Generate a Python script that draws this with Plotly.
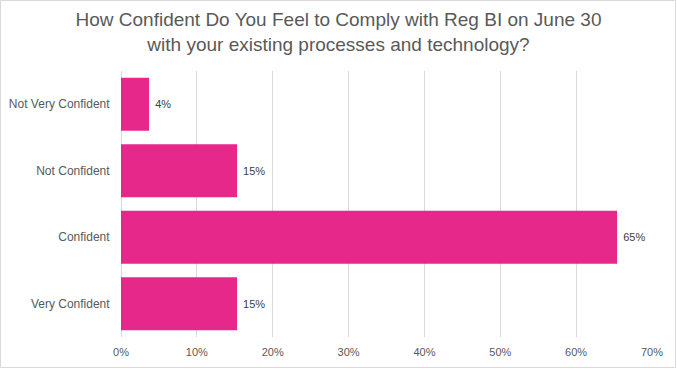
import plotly.graph_objects as go

categories = ["Very Confident", "Confident", "Not Confident", "Not Very Confident"]
values = [0.153, 0.654, 0.153, 0.037]
labels = ["15%", "65%", "15%", "4%"]
tick_vals = [0, 0.1, 0.2, 0.3, 0.4, 0.5, 0.6, 0.7]
tick_text = ["0%", "10%", "20%", "30%", "40%", "50%", "60%", "70%"]

W, H = 677, 369
L, R, T, B = 121, 25, 71, 32
pw, ph = W - L - R, H - T - B

fig = go.Figure(go.Bar(
    y=categories, x=values, orientation="h",
    marker=dict(color="#E6288A", line=dict(width=0)),
    text=[" " + t for t in labels], textposition="outside", cliponaxis=False,
    textfont=dict(size=11, color="#404040", family="Liberation Sans"),
    hoverinfo="skip",
))

fig.update_layout(
    width=W, height=H,
    margin=dict(l=L, r=R, t=T, b=B, pad=0, autoexpand=False),
    paper_bgcolor="white", plot_bgcolor="white",
    bargap=0.2,
    title=dict(
        text="How Confident Do You Feel to Comply with Reg BI on June 30<br>with your existing processes and technology?",
        x=0.5, xanchor="center", y=1 - 26 / H, yanchor="middle",
        font=dict(size=19, color="#595959", family="Liberation Sans"),
    ),
    xaxis=dict(
        range=[0, 0.7], tickvals=tick_vals, ticktext=tick_text,
        showgrid=True, gridcolor="#D9D9D9", gridwidth=1,
        zeroline=True, zerolinecolor="#D9D9D9", zerolinewidth=1,
        showline=False, ticks="outside", ticklen=5, tickcolor="rgba(0,0,0,0)",
        automargin=False,
        tickfont=dict(size=11, color="#595959", family="Liberation Sans"),
    ),
    yaxis=dict(
        showgrid=False, zeroline=False, showline=False, ticks="outside",
        ticklen=8, tickcolor="rgba(0,0,0,0)", automargin=False,
        tickfont=dict(size=12, color="#595959", family="Liberation Sans"),
    ),
    showlegend=False,
    shapes=[dict(
        type="rect", xref="paper", yref="paper",
        x0=(0.5 - L) / pw, x1=(W - 1.5 - L) / pw,
        y0=-(B - 1.5) / ph,
        y1=1 + (T - 0.5) / ph,
        line=dict(color="#D9D9D9", width=1),
    )],
)

fig.write_html("out.html", config={"displayModeBar": False},
               post_script="document.body.style.margin='0';")
